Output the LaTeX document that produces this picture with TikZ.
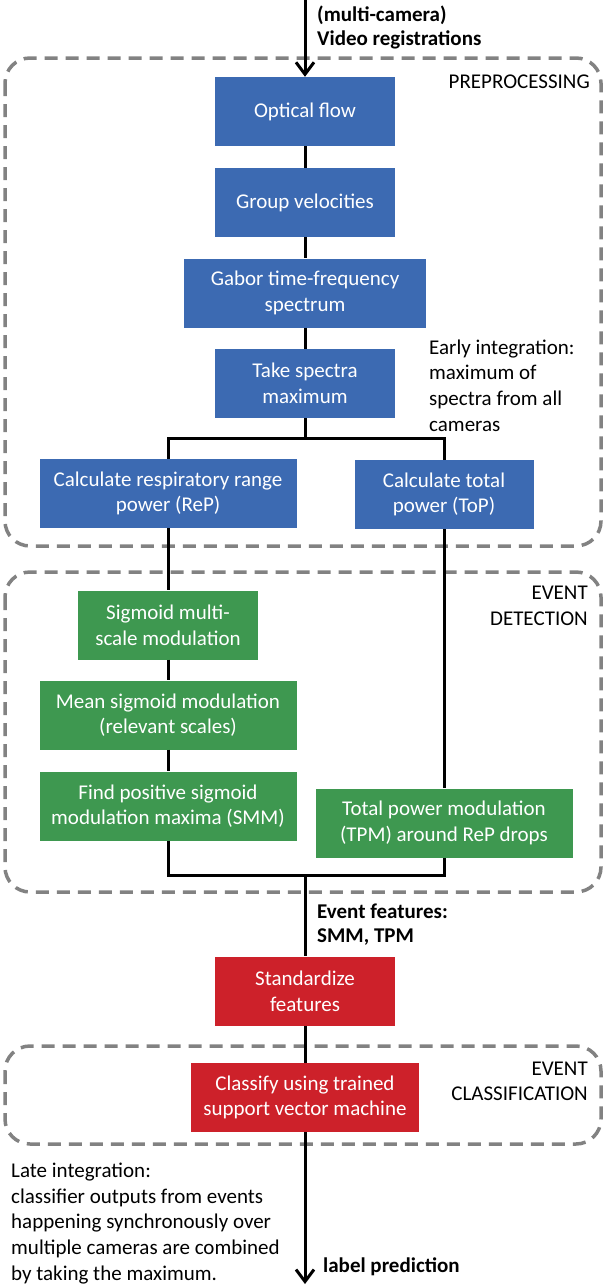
\documentclass[tikz,border=0pt]{standalone}
\usepackage{fontspec}
\setmainfont{Carlito}
\usetikzlibrary{arrows.meta}

\definecolor{boxblue}{RGB}{60,106,178}
\definecolor{boxgreen}{RGB}{62,152,80}
\definecolor{boxred}{RGB}{205,33,42}
\definecolor{dashgray}{RGB}{130,130,130}

\begin{document}
\begin{tikzpicture}[x=1pt,y=-1pt,
    stepbox/.style={rectangle, inner sep=0pt, minimum height=69pt, text=white,
        align=center, font=\fontsize{21}{25.6}\selectfont},
    pre/.style={stepbox, fill=boxblue},
    det/.style={stepbox, fill=boxgreen},
    cls/.style={stepbox, fill=boxred},
    stage/.style={draw=dashgray, line width=3.5pt, dash pattern=on 13pt off 8pt, rounded corners=25pt},
    note/.style={align=left, inner sep=0pt, font=\fontsize{21}{25.6}\selectfont},
    boldnote/.style={note, font=\fontsize{21}{24}\selectfont\bfseries},
    tag/.style={align=right, inner sep=0pt, font=\fontsize{21}{25.6}\selectfont},
    flow/.style={line width=3pt},
    flowarrow/.style={flow, -{Straight Barb[length=12pt,width=18pt]}}]

    \useasboundingbox (0,0) rectangle (606,1286);

    % 三个虚线分区
    \draw[stage] (5,58) rectangle (601,546);
    \draw[stage] (5,572) rectangle (601,892);
    \draw[stage] (5,1046) rectangle (601,1144);

    % 预处理
    \node[pre, minimum width=180pt] (optflow) at (305,111.5) {Optical flow};
    \node[pre, minimum width=180pt] (groupvel) at (305,202.5) {Group velocities};
    \node[pre, minimum width=242pt] (gabor) at (305,293) {Gabor time-frequency\\spectrum};
    \node[pre, minimum width=180pt] (specmax) at (305,383.5) {Take spectra\\maximum};
    \node[pre, minimum width=257pt] (resppow) at (168,493.5) {Calculate respiratory range\\power (ReP)};
    \node[pre, minimum width=179pt] (totpow) at (444,494.5) {Calculate total\\power (ToP)};

    % 事件检测
    \node[det, minimum width=180pt] (sigmulti) at (168,625) {Sigmoid multi-\\scale modulation};
    \node[det, minimum width=257pt] (sigmean) at (168,715) {Mean sigmoid modulation\\(relevant scales)};
    \node[det, minimum width=257pt] (sigmax) at (168,806) {Find positive sigmoid\\modulation maxima (SMM)};
    \node[det, minimum width=257pt] (tpmod) at (444,823) {Total power modulation\\(TPM) around ReP drops};

    % 分类
    \node[cls, minimum width=180pt] (standard) at (305,991) {Standardize\\features};
    \node[cls, minimum width=228pt] (svm) at (305,1097.5) {Classify using trained\\support vector machine};

    % 连线
    \coordinate (src) at (305,0);
    \coordinate (split) at (305,438);
    \coordinate (join) at (305,875);
    \coordinate (sink) at (305,1284);
    \draw[flowarrow] (src) -- (optflow.north);
    \draw[flow] (optflow) -- (groupvel);
    \draw[flow] (groupvel) -- (gabor);
    \draw[flow] (gabor) -- (specmax);
    \draw[flow] (specmax) -- (split);
    \draw[flow] (resppow.north) |- (split) -| (totpow.north);
    \draw[flow] (resppow) -- (sigmulti);
    \draw[flow] (sigmulti) -- (sigmean);
    \draw[flow] (sigmean) -- (sigmax);
    \draw[flow] (totpow.south) -- (totpow.south |- tpmod.north);
    \draw[flow] (sigmax.south) |- (join) -| (tpmod.south);
    \draw[flow] (join) -- (standard.north);
    \draw[flow] (standard) -- (svm);
    \draw[flowarrow] (svm.south) -- (sink);

    % 文字说明
    \node[boldnote, anchor=west] (srclabel) at (317,27) {(multi-camera)\\Video registrations};
    \node[tag, anchor=east] (prelabel) at (590,82) {PREPROCESSING};
    \node[note, anchor=west] (early) at (429,385.5) {Early integration:\\maximum of\\spectra from all\\cameras};
    \node[tag, anchor=east] (detlabel) at (588,606) {EVENT\\DETECTION};
    \node[boldnote, anchor=west] (featlabel) at (317,924.5) {Event features:\\SMM, TPM};
    \node[tag, anchor=east] (clslabel) at (588,1081.5) {EVENT\\CLASSIFICATION};
    \node[note, anchor=west] (late) at (11,1223.5) {Late integration:\\classifier outputs from events\\happening synchronously over\\multiple cameras are combined\\by taking the maximum.};
    \node[boldnote, anchor=west] (outlabel) at (323,1267) {label prediction};

\end{tikzpicture}
\end{document}
